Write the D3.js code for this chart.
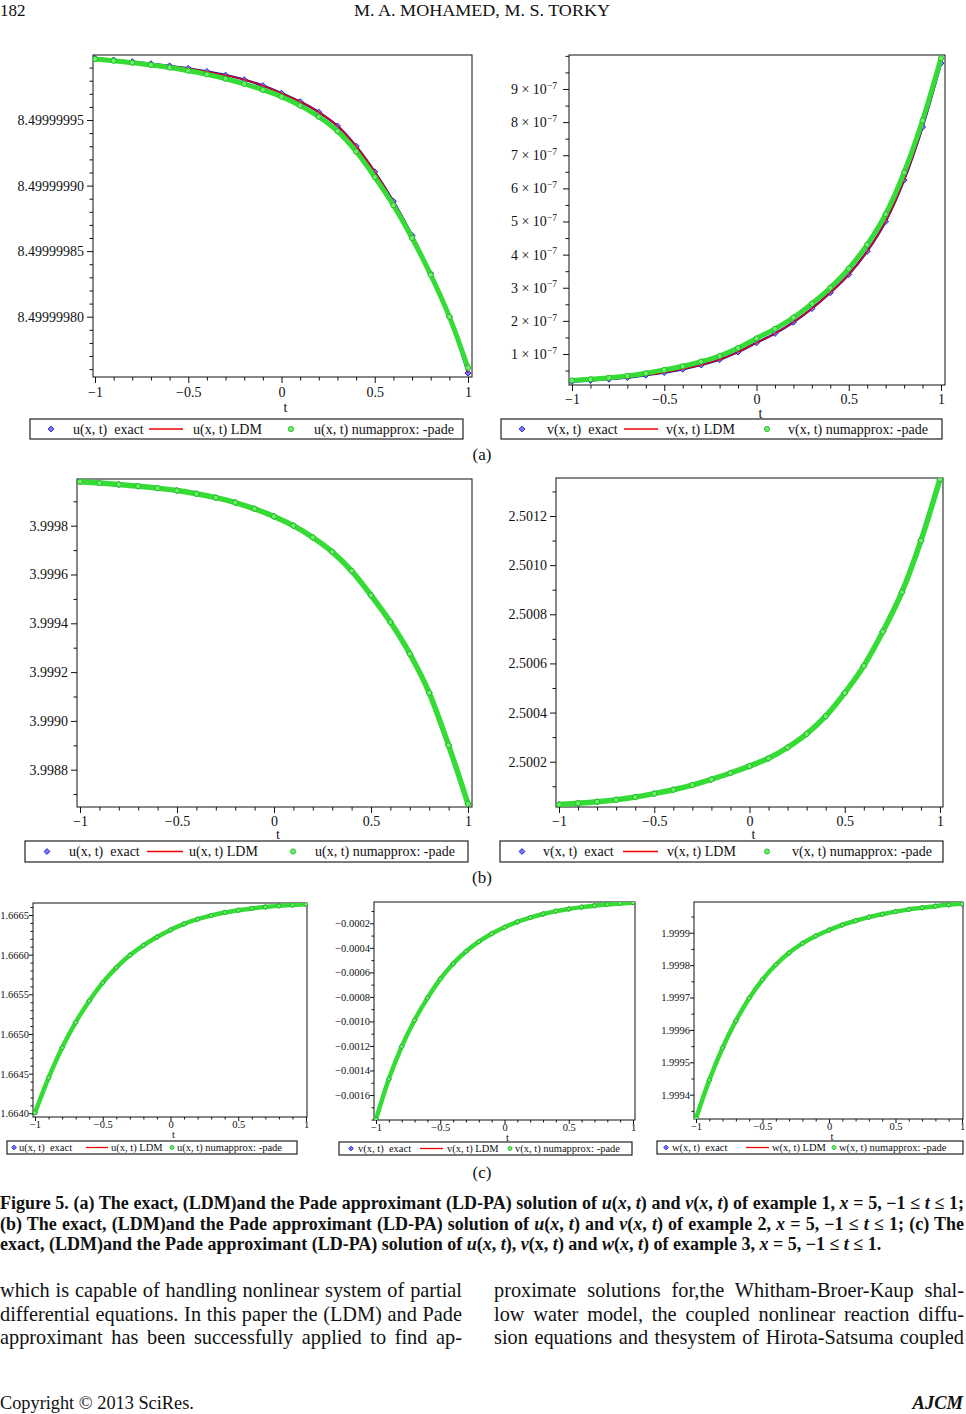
<!DOCTYPE html>
<html><head><meta charset="utf-8">
<script src="https://cdn.jsdelivr.net/npm/d3@7"></script>
<style>
body{margin:0;background:#fff}
svg{display:block}
text{font-family:"Liberation Serif","Times New Roman",serif;fill:#111}
</style>
</head><body>
<svg id="page" width="966" height="1414"></svg>
<script>
// ---------------- DATA ----------------
const tValues = [-1,-0.9,-0.8,-0.7,-0.6,-0.5,-0.4,-0.3,-0.2,-0.1,0,0.1,0.2,0.3,0.4,0.5,0.6,0.7,0.8,0.9,1];
const xTicks = [-1,-0.5,0,0.5,1];
const xMinorTicks = [-0.9,-0.8,-0.7,-0.6,-0.4,-0.3,-0.2,-0.1,0.1,0.2,0.3,0.4,0.6,0.7,0.8,0.9];

// (a) example 1
const a1Exact = [8.4999999970,8.4999999958,8.4999999945,8.4999999930,8.4999999913,8.4999999894,8.4999999870,8.4999999842,8.4999999808,8.4999999762,8.4999999704,8.4999999640,8.4999999560,8.4999999455,8.4999999300,8.4999999105,8.4999998880,8.4999998620,8.4999998330,8.4999998000,8.4999997570];
const a1Pade  = [8.4999999965,8.4999999952,8.4999999937,8.4999999920,8.4999999900,8.4999999876,8.4999999848,8.4999999815,8.4999999776,8.4999999730,8.4999999678,8.4999999610,8.4999999525,8.4999999415,8.4999999260,8.4999999065,8.4999998850,8.4999998600,8.4999998320,8.4999998000,8.4999997610];
const a1Ticks = [8.49999980,8.49999985,8.49999990,8.49999995];

const a2Exact = [0.17e-7,0.20e-7,0.24e-7,0.29e-7,0.36e-7,0.44e-7,0.54e-7,0.67e-7,0.83e-7,1.06e-7,1.34e-7,1.62e-7,1.96e-7,2.37e-7,2.85e-7,3.40e-7,4.10e-7,5.00e-7,6.25e-7,7.85e-7,9.78e-7];
const a2Pade  = [0.20e-7,0.24e-7,0.28e-7,0.34e-7,0.42e-7,0.52e-7,0.63e-7,0.77e-7,0.94e-7,1.18e-7,1.47e-7,1.76e-7,2.10e-7,2.52e-7,3.00e-7,3.58e-7,4.30e-7,5.22e-7,6.48e-7,8.05e-7,9.93e-7];
const a2Ticks = [1e-7,2e-7,3e-7,4e-7,5e-7,6e-7,7e-7,8e-7,9e-7];
const a2TickMantissa = ["1","2","3","4","5","6","7","8","9"];

// (b) example 2
const b1Values = [3.999980,3.999975,3.999969,3.999962,3.999954,3.999944,3.999931,3.999915,3.999895,3.999869,3.999838,3.999800,3.999752,3.999693,3.999615,3.999515,3.999405,3.999275,3.999115,3.998900,3.998660];
const b1Ticks = [3.9988,3.9990,3.9992,3.9994,3.9996,3.9998];
const b2Values = [2.500026,2.500031,2.500037,2.500045,2.500056,2.500070,2.500086,2.500105,2.500128,2.500154,2.500182,2.500214,2.500258,2.500313,2.500385,2.500480,2.500590,2.500730,2.500890,2.501100,2.501350];
const b2Ticks = [2.5002,2.5004,2.5006,2.5008,2.5010,2.5012];

// (c) example 3
const c1Values = [1.664007,1.664447,1.664827,1.665147,1.665417,1.665647,1.665837,1.665992,1.666117,1.666222,1.666312,1.666387,1.666447,1.666494,1.666531,1.666560,1.666583,1.666601,1.666615,1.666626,1.666635];
const c1Ticks = [1.6640,1.6645,1.6650,1.6655,1.6660,1.6665];
const c2Values = [-0.0017980,-0.0014700,-0.0012050,-0.0009900,-0.0008100,-0.0006550,-0.0005300,-0.0004300,-0.0003500,-0.0002850,-0.0002320,-0.0001880,-0.0001530,-0.0001240,-0.0001010,-0.0000830,-0.0000680,-0.0000560,-0.0000460,-0.0000380,-0.0000320];
const c2Ticks = [-0.0016,-0.0014,-0.0012,-0.0010,-0.0008,-0.0006,-0.0004,-0.0002];
const c3Values = [1.999327,1.999445,1.999545,1.999628,1.999698,1.999755,1.999801,1.999838,1.999867,1.999890,1.999908,1.999924,1.999937,1.999948,1.999957,1.999965,1.999972,1.999977,1.999982,1.999986,1.999989];
const c3Ticks = [1.9994,1.9995,1.9996,1.9997,1.9998,1.9999];

// legend labels
const legendU = ["u(x, t)  exact","u(x, t) LDM","u(x, t) numapprox: -pade"];
const legendV = ["v(x, t)  exact","v(x, t) LDM","v(x, t) numapprox: -pade"];
const legendW = ["w(x, t)  exact","w(x, t) LDM","w(x, t) numapprox: -pade"];

// page texts
const headerLeft = "182";
const headerTitle = "M. A. MOHAMED, M. S. TORKY";
const panelLabels = ["(a)","(b)","(c)"];
const captionLines = [
 "Figure 5. (a) The exact, (LDM)and the Pade approximant (LD-PA) solution of *u*(*x*, *t*) and *v*(*x*, *t*) of example 1, *x* = 5, −1 ≤ *t* ≤ 1;",
 "(b) The exact, (LDM)and the Pade approximant (LD-PA) solution of *u*(*x*, *t*) and *v*(*x*, *t*) of example 2, *x* = 5, −1 ≤ *t* ≤ 1; (c) The",
 "exact, (LDM)and the Pade approximant (LD-PA) solution of *u*(*x*, *t*), *v*(x, *t*) and *w*(*x*, *t*) of example 3, *x* = 5, −1 ≤ *t* ≤ 1."
];
const bodyLeft = ["which is capable of handling nonlinear system of partial","differential equations. In this paper the (LDM) and Pade","approximant has been successfully applied to find ap-"];
const bodyRight = ["proximate solutions for,the Whitham-Broer-Kaup shal-","low water model, the coupled nonlinear reaction diffu-","sion equations and thesystem of Hirota-Satsuma coupled"];
const footerLeft = "Copyright © 2013 SciRes.";
const footerRight = "AJCM";

// ---------------- LAYOUT / STYLE ----------------
const BLUE = "#1414c8", BLUE_FILL = "#7a7aff", RED = "#ee0000";
const GREEN_BAND = "#36dc36", GREEN_FILL = "#66f466", GREEN_EDGE = "#23a823";
const FONT = '"Liberation Serif","Times New Roman",serif';
const svg = d3.select("#page");

function minorTicks(lo, hi, step, majors){
  return d3.range(Math.ceil(lo/step - 1e-6), Math.floor(hi/step + 1e-6) + 1)
    .map(k => k*step)
    .filter(v => v >= lo && v <= hi && !majors.some(m => Math.abs(m - v) < step/10));
}
const sciFormat = (ticks, mant) => (d) => mant[ticks.findIndex(v => Math.abs(v - d) < 1e-12)];

const charts = [
 {frame:[93,55,472,377], xr:[95,468], yd:[8.499999754,8.4999999996], ticks:a1Ticks, mstep:1e-8, fmt:d3.format(".8f"),
  exact:a1Exact, ldm:a1Exact, pade:a1Pade, font:14, tick:6, mtick:3.5, xPad:4, yPad:3, tY:412, tDx:4,
  legend:{box:[30,419,463,439], labels:legendU, d:51, t1:73, l:[149,183], t2:193, c:291, t3:314}, band:5, blueW:2.4, ms:2.6},
 {frame:[569,55,945,385], xr:[572,941], yd:[0.064e-7,10.026e-7], ticks:a2Ticks, mstep:0.5e-7, sci:true,
  exact:a2Exact, ldm:a2Exact, pade:a2Pade, font:14, tick:6, mtick:3.5, xPad:3, yPad:6, tY:418, tDx:4,
  legend:{box:[501,419,942,439], labels:legendV, d:522, t1:547, l:[624,658], t2:666, c:767, t3:788}, band:5, blueW:2.4, ms:2.6},
 {frame:[77,479,472,807], xr:[80,468], yd:[3.9986471,3.9999914], ticks:b1Ticks, mstep:0.0001, fmt:d3.format(".4f"),
  exact:b1Values, ldm:b1Values, pade:b1Values, font:14, tick:6, mtick:3.5, xPad:3, yPad:3, tY:839, tDx:4,
  legend:{box:[25,841,468,862], labels:legendU, d:47, t1:69, l:[147,183], t2:189, c:293, t3:315}, band:5.5, blueW:2.4, ms:2.6},
 {frame:[556,478,943,807], xr:[559,940], yd:[2.5000156,2.5013547], ticks:b2Ticks, mstep:0.0001, fmt:d3.format(".4f"),
  exact:b2Values, ldm:b2Values, pade:b2Values, font:14, tick:6, mtick:3.5, xPad:3, yPad:3, tY:839, tDx:4,
  legend:{box:[500,841,943,862], labels:legendV, d:522, t1:543, l:[623,658], t2:667, c:767, t3:792}, band:5.5, blueW:2.4, ms:2.6},
 {frame:[33,903,307,1117], xr:[35,306], yd:[1.6639534,1.6666513], ticks:c1Ticks, mstep:0.0001, fmt:d3.format(".4f"),
  exact:c1Values, ldm:c1Values, pade:c1Values, font:10.5, tick:4, mtick:2.5, xPad:0, yPad:0, tY:1138, tDx:3,
  legend:{box:[7,1141,297,1154], labels:legendU, d:14, t1:19, l:[86,108], t2:111, c:172, t3:177}, band:4.5, blueW:2, ms:2},
 {frame:[374,902,635,1120], xr:[376,633], yd:[-0.0018038,-0.0000263], ticks:c2Ticks, mstep:0.0001, fmt:d3.format(".4f"),
  exact:c2Values, ldm:c2Values, pade:c2Values, font:10.5, tick:4, mtick:2.5, xPad:0, yPad:0, tY:1141, tDx:3,
  legend:{box:[339,1142,632,1155], labels:legendV, d:351, t1:358, l:[420,443], t2:447, c:510, t3:515}, band:4.5, blueW:2, ms:2},
 {frame:[694,902,963,1119], xr:[696,962], yd:[1.999325,1.9999948], ticks:c3Ticks, mstep:0.00005, fmt:d3.format(".4f"),
  exact:c3Values, ldm:c3Values, pade:c3Values, font:10.5, tick:4, mtick:2.5, xPad:0, yPad:0, tY:1140, tDx:3,
  legend:{box:[657,1141,963,1154], labels:legendW, d:666, t1:672, l:[746,769], t2:772, c:834, t3:839}, band:4.5, blueW:2, ms:2}
];

function diamond(cx, cy, s){ return `M${cx},${cy-s}L${cx+s},${cy}L${cx},${cy+s}L${cx-s},${cy}Z`; }

charts.forEach((cfg, idx) => {
  const f = cfg.frame;
  const g = svg.append("g");
  const x = d3.scaleLinear().domain([-1,1]).range(cfg.xr);
  const y = d3.scaleLinear().domain(cfg.yd).range([f[3], f[1]]);

  const clipId = "clip" + idx;
  svg.append("clipPath").attr("id", clipId).append("rect")
    .attr("x", f[0]).attr("y", f[1]).attr("width", f[2]-f[0]).attr("height", f[3]-f[1]);

  const styleAxis = sel => {
    sel.select(".domain").remove();
    sel.attr("font-family", FONT).attr("font-size", cfg.font);
    sel.selectAll("line").attr("stroke", "#111");
    sel.selectAll("text").attr("fill", "#111");
  };
  g.append("g").attr("transform", `translate(0,${f[3]})`)
    .call(d3.axisBottom(x).tickValues(xTicks).tickFormat(d3.format("")).tickSize(cfg.tick).tickSizeOuter(0).tickPadding(cfg.xPad))
    .call(styleAxis);
  g.append("g").attr("transform", `translate(0,${f[3]})`)
    .call(d3.axisBottom(x).tickValues(xMinorTicks).tickFormat("").tickSize(cfg.mtick).tickSizeOuter(0))
    .call(styleAxis);

  const yAxis = d3.axisLeft(y).tickValues(cfg.ticks).tickSize(cfg.tick).tickSizeOuter(0).tickPadding(cfg.yPad);
  if (!cfg.sci) yAxis.tickFormat(cfg.fmt); else yAxis.tickFormat("");
  const ya = g.append("g").attr("transform", `translate(${f[0]},0)`).call(yAxis).call(styleAxis);
  if (cfg.sci) {
    const fm = sciFormat(cfg.ticks, a2TickMantissa);
    ya.selectAll(".tick").each(function(d){
      const tx = d3.select(this).append("text").attr("x", -(cfg.tick + cfg.yPad)).attr("dy", "0.32em")
        .attr("text-anchor", "end").attr("fill", "#111").attr("font-size", cfg.font);
      tx.append("tspan").text(fm(d) + " × 10");
      tx.append("tspan").attr("font-size", cfg.font*0.68).attr("dy", "-0.55em").text("−7");
    });
  }
  g.append("g").attr("transform", `translate(${f[0]},0)`)
    .call(d3.axisLeft(y).tickValues(minorTicks(cfg.yd[0], cfg.yd[1], cfg.mstep, cfg.ticks)).tickFormat("").tickSize(cfg.mtick).tickSizeOuter(0))
    .call(styleAxis);

  g.append("rect").attr("x", f[0]).attr("y", f[1]).attr("width", f[2]-f[0]).attr("height", f[3]-f[1])
    .attr("fill", "none").attr("stroke", "#111").attr("stroke-width", 1);

  g.append("text").attr("x", x(0) + cfg.tDx).attr("y", cfg.tY).attr("text-anchor", "middle")
    .attr("font-size", cfg.font).text("t");

  // series
  const plot = g.append("g").attr("clip-path", `url(#${clipId})`);
  const pts = arr => tValues.map((t, i) => [x(t), y(arr[i])]);
  const line = d3.line().curve(d3.curveMonotoneX);

  plot.append("path").attr("d", line(pts(cfg.exact))).attr("fill", "none")
    .attr("stroke", BLUE).attr("stroke-width", cfg.blueW);
  plot.selectAll(".dia").data(pts(cfg.exact)).join("path").attr("class", "dia")
    .attr("d", p => diamond(p[0], p[1], cfg.ms + 0.4))
    .attr("fill", BLUE_FILL).attr("stroke", BLUE).attr("stroke-width", 0.9);
  plot.append("path").attr("d", line(pts(cfg.ldm))).attr("fill", "none")
    .attr("stroke", RED).attr("stroke-width", 1.3);
  plot.append("path").attr("d", line(pts(cfg.pade))).attr("fill", "none")
    .attr("stroke", GREEN_BAND).attr("stroke-width", cfg.band).attr("stroke-linecap", "round");
  plot.selectAll(".cir").data(pts(cfg.pade)).join("circle").attr("class", "cir")
    .attr("cx", p => p[0]).attr("cy", p => p[1]).attr("r", cfg.ms)
    .attr("fill", GREEN_FILL).attr("stroke", GREEN_EDGE).attr("stroke-width", 0.8);

  // legend
  const L = cfg.legend, b = L.box;
  const lg = g.append("g");
  const my = (b[1] + b[3]) / 2;
  const base = my + cfg.font * 0.33;
  lg.append("rect").attr("x", b[0]).attr("y", b[1]).attr("width", b[2]-b[0]).attr("height", b[3]-b[1])
    .attr("fill", "#fff").attr("stroke", "#222").attr("stroke-width", 1.2);
  lg.append("path").attr("d", diamond(L.d, my, cfg.ms + 0.3))
    .attr("fill", BLUE_FILL).attr("stroke", BLUE).attr("stroke-width", 0.9);
  lg.append("line").attr("x1", L.l[0]).attr("x2", L.l[1]).attr("y1", my).attr("y2", my)
    .attr("stroke", RED).attr("stroke-width", 1.3);
  lg.append("circle").attr("cx", L.c).attr("cy", my).attr("r", cfg.ms)
    .attr("fill", GREEN_FILL).attr("stroke", GREEN_EDGE).attr("stroke-width", 0.8);
  [L.t1, L.t2, L.t3].forEach((tx, i) => {
    lg.append("text").attr("x", tx).attr("y", base).attr("font-size", cfg.font)
      .style("white-space", "pre").text(L.labels[i]);
  });
});

// ---------------- PAGE TEXT ----------------
function rich(sel, str){
  str.split("*").forEach((seg, i) => {
    if (!seg) return;
    const ts = sel.append("tspan").text(seg);
    if (i % 2 === 1) ts.attr("font-style", "italic");
  });
}
function justify(sel, width){
  const node = sel.node();
  const nat = node.getComputedTextLength();
  const spaces = (node.textContent.match(/ /g) || []).length;
  if (spaces) sel.style("word-spacing", ((width - nat) / spaces) + "px");
}

svg.append("text").attr("x", 0).attr("y", 16).attr("font-size", 17).text(headerLeft);
svg.append("text").attr("x", 354).attr("y", 16).attr("font-size", 17)
  .attr("textLength", 256).attr("lengthAdjust", "spacingAndGlyphs").text(headerTitle);

const panelY = [460, 883, 1178];
panelLabels.forEach((s, i) => svg.append("text").attr("x", 482).attr("y", panelY[i])
  .attr("text-anchor", "middle").attr("font-size", 17).text(s));

// caption
const capY = [1209, 1229.5, 1250];
const capSel = captionLines.map((s, i) => {
  const t = svg.append("text").attr("x", 0).attr("y", capY[i]).attr("font-size", 16).attr("font-weight", "bold");
  rich(t, s);
  return t;
});
const capScale = 882 / capSel[2].node().getComputedTextLength();
capSel.forEach(t => t.attr("font-size", 16 * capScale));
justify(capSel[0], 964);
justify(capSel[1], 964);

// body: font size fitted so that the second left line sets with near-natural spacing
const probe = svg.append("text").attr("font-size", 18).text(bodyLeft[1]);
const bodySize = 18 * 457 / probe.node().getComputedTextLength();
probe.remove();
const bodyY = [1297, 1320.5, 1344];
bodyLeft.forEach((s, i) => {
  const t = svg.append("text").attr("x", 0).attr("y", bodyY[i]).attr("font-size", bodySize).text(s);
  justify(t, 462);
});
bodyRight.forEach((s, i) => {
  const t = svg.append("text").attr("x", 494).attr("y", bodyY[i]).attr("font-size", bodySize).text(s);
  justify(t, 470);
});

const foot = svg.append("text").attr("x", 0).attr("y", 1409).attr("font-size", 18).text(footerLeft);
foot.attr("font-size", 18 * 194 / foot.node().getComputedTextLength());
svg.append("text").attr("x", 963).attr("y", 1409).attr("font-size", 18.5).attr("text-anchor", "end")
  .attr("font-style", "italic").attr("font-weight", "bold").text(footerRight);
</script>
</body></html>
